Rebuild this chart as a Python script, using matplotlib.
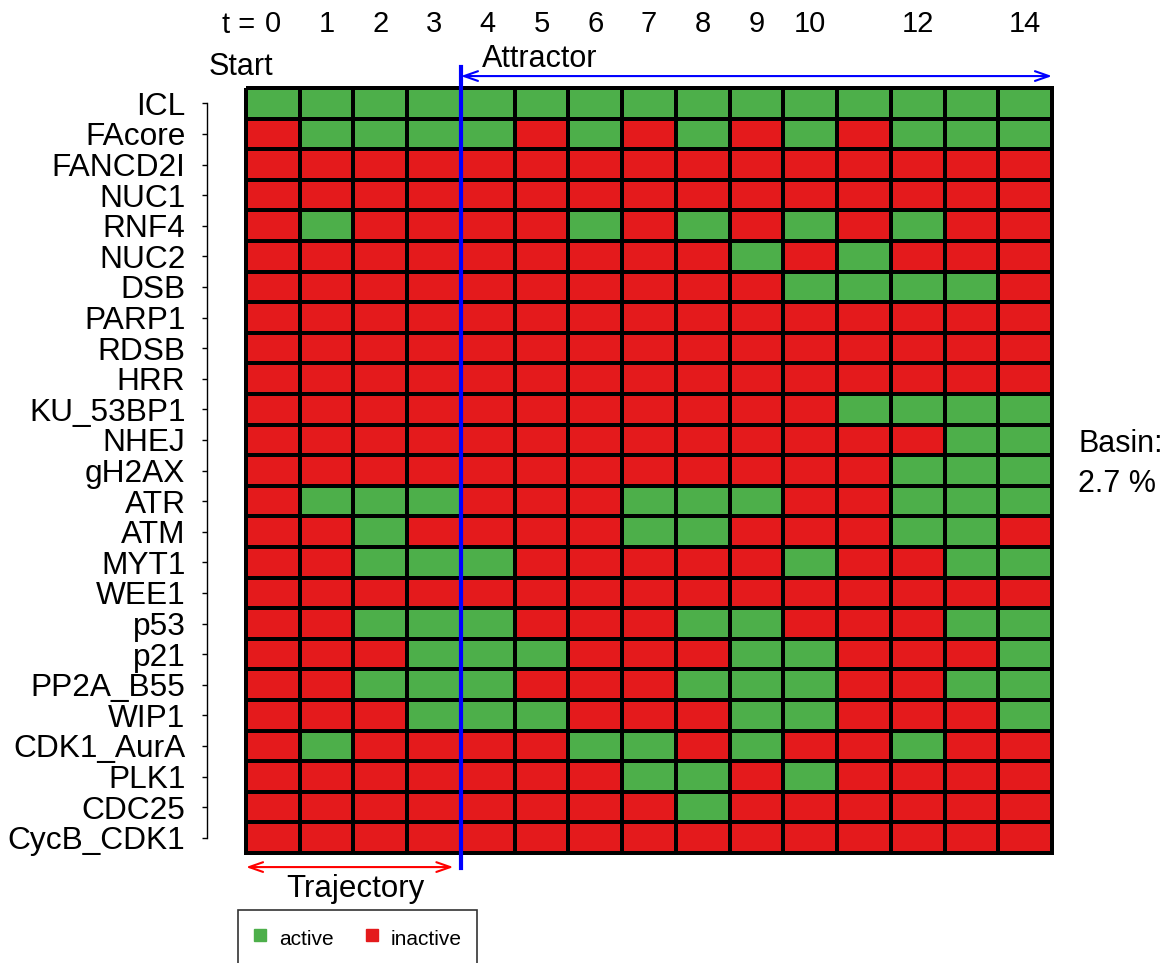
import numpy as np

import matplotlib

matplotlib.use("Agg")
import matplotlib.pyplot as plt  # noqa: E402
from matplotlib.colors import ListedColormap  # noqa: E402
from matplotlib.lines import Line2D  # noqa: E402

plt.rcParams["font.family"] = ["Liberation Sans", "DejaVu Sans"]

genes = [
    "ICL", "FAcore", "FANCD2I", "NUC1", "RNF4", "NUC2", "DSB", "PARP1", "RDSB",
    "HRR", "KU_53BP1", "NHEJ", "gH2AX", "ATR", "ATM", "MYT1", "WEE1", "p53",
    "p21", "PP2A_B55", "WIP1", "CDK1_AurA", "PLK1", "CDC25", "CycB_CDK1",
]
time_labels = ["0", "1", "2", "3", "4", "5", "6", "7", "8", "9", "10", "", "12", "", "14"]

# 1 = active, 0 = inactive, one string per gene, t = 0..14
state_rows = [
    "111111111111111",  # ICL
    "011110101010111",  # FAcore
    "000000000000000",  # FANCD2I
    "000000000000000",  # NUC1
    "010000101010100",  # RNF4
    "000000000101000",  # NUC2
    "000000000011110",  # DSB
    "000000000000000",  # PARP1
    "000000000000000",  # RDSB
    "000000000000000",  # HRR
    "000000000001111",  # KU_53BP1
    "000000000000011",  # NHEJ
    "000000000000111",  # gH2AX
    "011100011100111",  # ATR
    "001000011000110",  # ATM
    "001110000010011",  # MYT1
    "000000000000000",  # WEE1
    "001110001100011",  # p53
    "000111000110001",  # p21
    "001110001110011",  # PP2A_B55
    "000111000110001",  # WIP1
    "010000110100100",  # CDK1_AurA
    "000000011010000",  # PLK1
    "000000001000000",  # CDC25
    "000000000000000",  # CycB_CDK1
]
attractor_start = 4
basin_pct = 2.7

GREEN = "#4DAF4A"
RED = "#E41A1C"

states = np.array([[int(c) for c in row] for row in state_rows])
n_genes, n_steps = states.shape

W, H = 1168, 963
fig = plt.figure(figsize=(W / 100, H / 100), dpi=100)
ax = fig.add_axes([246 / W, 1 - 853 / H, 806 / W, 765 / H])

mesh = ax.pcolormesh(
    np.arange(n_steps + 1), np.arange(n_genes + 1), states,
    cmap=ListedColormap([RED, GREEN]), vmin=0, vmax=1,
    edgecolors="black", linewidth=2.8,
)
mesh.set_clip_on(False)
ax.set_xlim(0, n_steps)
ax.set_ylim(n_genes, 0)

# gene axis, R style
ax.set_yticks(np.arange(n_genes) + 0.5, genes)
for s in ["top", "right", "bottom"]:
    ax.spines[s].set_visible(False)
ax.spines["left"].set_position(("outward", 28))
ax.spines["left"].set_bounds(0.5, n_genes - 0.5)
ax.spines["left"].set_linewidth(1.0)
ax.tick_params(axis="y", length=3.6, width=1.0, pad=12, labelsize=22.8)

# time axis on top
ax.xaxis.tick_top()
ax.set_xticks(np.arange(n_steps) + 0.5, time_labels)
ax.tick_params(axis="x", length=0, pad=36, labelsize=21)
ax.text(0.17, -1.8, "t =", ha="right", va="baseline", fontsize=21, clip_on=False)

# attractor marker
ax.plot([attractor_start, attractor_start], [-0.69, 25.5], color="blue", lw=3,
        clip_on=False, zorder=5)
ax.annotate("", xy=(n_steps, -0.39), xytext=(attractor_start, -0.39),
            arrowprops=dict(arrowstyle="<->,head_length=1.0,head_width=0.35",
                            color="blue", lw=1.5, shrinkA=0, shrinkB=0),
            annotation_clip=False)
ax.text(attractor_start + 0.39, -0.70, "Attractor", ha="left", va="baseline",
        fontsize=22, clip_on=False)
ax.text(-0.09, -0.42, "Start", ha="center", va="baseline", fontsize=22, clip_on=False)

# trajectory marker
ax.annotate("", xy=(attractor_start - 0.14, 25.46), xytext=(0, 25.46),
            arrowprops=dict(arrowstyle="<->,head_length=1.0,head_width=0.35",
                            color="red", lw=1.5, shrinkA=0, shrinkB=0),
            annotation_clip=False)
ax.text(2.04, 26.45, "Trajectory", ha="center", va="baseline", fontsize=22.5,
        clip_on=False)

# basin size
ax.text(15.49, 11.9, "Basin:", ha="left", va="baseline", fontsize=22, clip_on=False)
ax.text(15.49, 13.2, f"{basin_pct} %", ha="left", va="baseline", fontsize=22,
        clip_on=False)

handles = [
    Line2D([], [], ls="none", marker="s", ms=8, color=GREEN, label="active"),
    Line2D([], [], ls="none", marker="s", ms=8, color=RED, label="inactive"),
]
leg = fig.legend(
    handles=handles, loc="upper left", bbox_to_anchor=(238 / W, 1 - 910 / H),
    ncol=2, fontsize=15, frameon=True, fancybox=False, edgecolor="black",
    borderaxespad=0, borderpad=0.72, handlelength=0.7, handleheight=1.6,
    handletextpad=0.55, columnspacing=1.5,
)
leg.get_frame().set_linewidth(1.2)

fig.savefig("out.png", dpi=100)
